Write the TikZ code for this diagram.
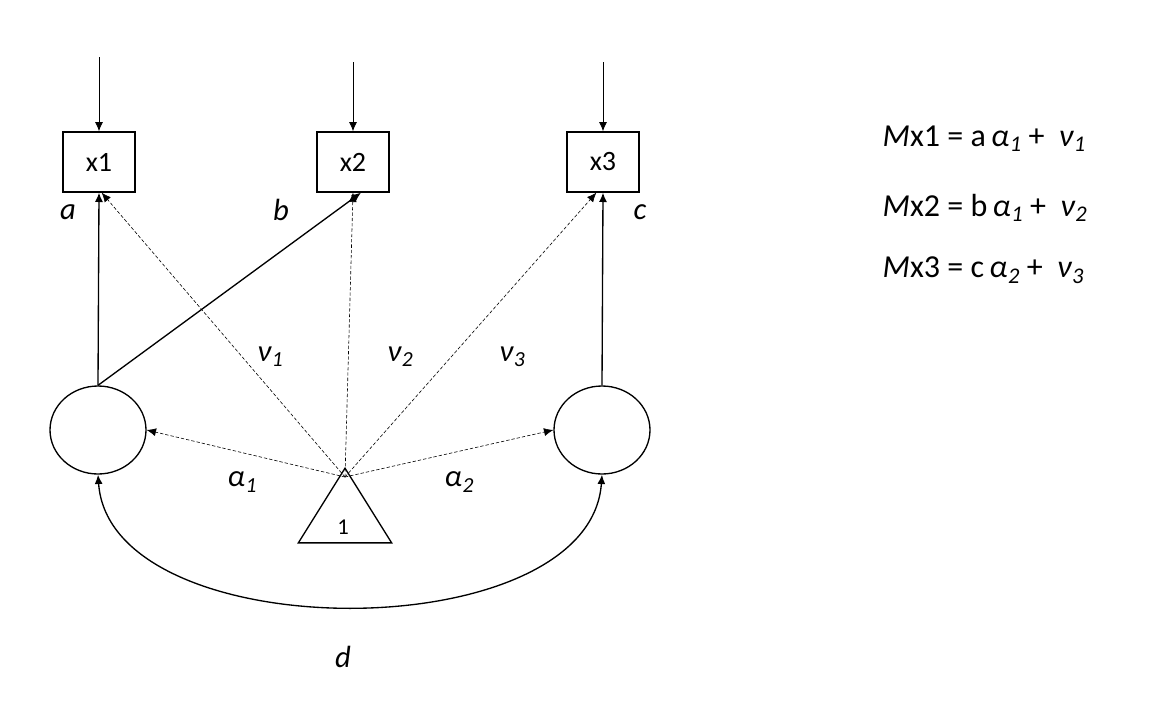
\documentclass[tikz,border=0pt]{standalone}
\usepackage{fontspec}
\setmainfont{Carlito}
\usetikzlibrary{shapes.geometric,arrows.meta}
\newcommand{\gsym}[2]{{\itshape #1\kern0.5pt\raisebox{-0.35ex}{\fontsize{0.7em}{1em}\selectfont #2}}}
\tikzset{
  obsbox/.style={draw, line width=1pt, minimum width=54pt, minimum height=45pt, inner sep=0pt, font=\fontsize{21}{24}\selectfont},
  latent/.style={draw, line width=1pt, ellipse, minimum width=72pt, minimum height=66pt, inner sep=0pt},
  const/.style={draw, line width=1pt, isosceles triangle, isosceles triangle apex angle=64, shape border rotate=90, minimum height=56pt, inner sep=0pt},
  lbl/.style={font=\fontsize{23}{26}\selectfont},
  eqn/.style={font=\fontsize{24}{28}\selectfont, anchor=west},
  load/.style={-{Latex[length=7pt,width=6pt]}, line width=1pt},
  mean/.style={-{Latex[length=7pt,width=6pt]}, dash pattern=on 2.5pt off 1.5pt, line width=0.45pt},
  err/.style={-{Latex[length=7pt,width=6pt]}, line width=0.6pt},
}
\begin{document}
\begin{tikzpicture}[x=0.75pt,y=0.75pt,yscale=-1,xscale=1]
\useasboundingbox (0,0) rectangle (1164,704);

% observed
\node[obsbox] (x1) at (99,162) {x1};
\node[obsbox] (x2) at (353,162) {x2};
\node[obsbox] (x3) at (603,162) {x3};
% latent
\node[latent] (f1) at (98,430) {};
\node[latent] (f2) at (602,430) {};
% constant
\node[const] (one) at (345,517) {};
\node at (343,527) {\fontsize{17}{20}\selectfont 1};
\coordinate (src) at (345,477);

% error arrows
\coordinate (e1) at (99,57);
\coordinate (e2) at (353,62);
\coordinate (e3) at (603,62);
\draw[err] (e1) -- (x1.north);
\draw[err] (e2) -- (x2.north);
\draw[err] (e3) -- (x3.north);

% loadings
\draw[load] (f1.north) -- (x1.south);
\draw[load] (f1.north) -- ([xshift=6pt]x2.south);
\draw[load] (f2.north) -- (x3.south);

% means and intercepts
\draw[mean] (src) -- (f1.east);
\draw[mean] (src) -- (f2.west);
\draw[mean] (src) -- ([xshift=2pt]x1.south);
\draw[mean] (src) -- (x2.south);
\draw[mean] (src) -- ([xshift=-5pt]x3.south);

% covariance
\draw[load, {Latex[length=7pt,width=6pt]}-{Latex[length=7pt,width=6pt]}] (f1.south) .. controls (110,650) and (590,650) .. (f2.south);

% labels
\node[lbl] at (68,212) {\itshape a};
\node[lbl] at (281,210) {\itshape b};
\node[lbl] at (640,212) {\itshape c};
\node[lbl] at (343,657) {\itshape d};
\node[lbl] at (270,357) {\gsym{ν}{1}};
\node[lbl] at (400,357) {\gsym{ν}{2}};
\node[lbl] at (512,357) {\gsym{ν}{3}};
\node[lbl] at (242,482) {\gsym{α}{1}};
\node[lbl] at (459,482) {\gsym{α}{2}};

% equations
\node[eqn] (eq1) at (878,139) {\itshape M\upshape x1 = a\,\gsym{α}{1} + \ \gsym{ν}{1}};
\node[eqn] (eq2) at (878,208) {\itshape M\upshape x2 = b\,\gsym{α}{1} + \ \gsym{ν}{2}};
\node[eqn] (eq3) at (878,270) {\itshape M\upshape x3 = c\,\gsym{α}{2} + \ \gsym{ν}{3}};
\end{tikzpicture}
\end{document}
